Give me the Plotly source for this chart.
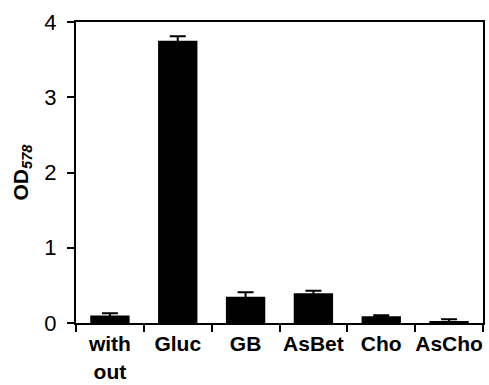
import plotly.graph_objects as go

# Growth on different carbon/osmolyte sources
categories = ["with<br>out", "Gluc", "GB", "AsBet", "Cho", "AsCho"]
od_values = [0.10, 3.75, 0.35, 0.395, 0.09, 0.02]
od_errors = [0.03, 0.06, 0.06, 0.035, 0.012, 0.03]
y_ticks = [0, 1, 2, 3, 4]

FONT = "Liberation Sans, Arial, sans-serif"

fig = go.Figure(
    go.Bar(
        x=categories,
        y=od_values,
        width=0.58,
        marker=dict(color="black", line=dict(color="black", width=0)),
        error_y=dict(type="data", array=od_errors, visible=True,
                     color="black", thickness=2, width=8),
    )
)

axis_common = dict(
    showline=True, linecolor="black", linewidth=2, mirror=True,
    ticks="outside", ticklen=7, tickwidth=2, tickcolor="black",
    showgrid=False, zeroline=False, automargin=False,
)

fig.update_layout(
    width=489, height=385,
    margin=dict(l=76, r=6, t=22, b=62),
    paper_bgcolor="white", plot_bgcolor="white",
    showlegend=False,
    font=dict(family=FONT, color="black"),
    xaxis=dict(
        **axis_common,
        tickson="boundaries",
        range=[-0.5, 5.5],
        tickangle=0,
        ticklabelstandoff=1,
        tickfont=dict(size=21, family=FONT, weight="bold"),
    ),
    yaxis=dict(
        **axis_common,
        range=[0, 4],
        tickvals=y_ticks,
        tickfont=dict(size=22),
        ticklabelstandoff=6,
        title=dict(text="<b>OD<sub><i>578</i></sub></b>", font=dict(size=21), standoff=10),
    ),
)

fig.write_html("out.html")
